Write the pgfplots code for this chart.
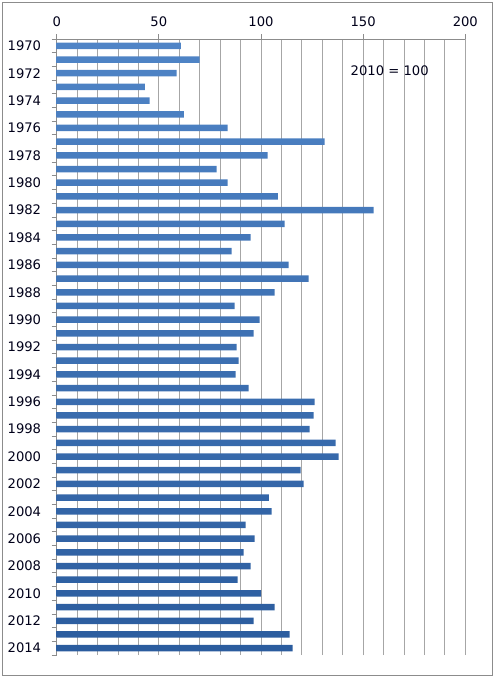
\documentclass[border=0pt]{standalone}
\usepackage{pgfplots}
\pgfplotsset{compat=1.18}
\usepackage{pgfplotstable}
\usepackage{fontspec}
\setmainfont{DejaVu Sans}
\definecolor{bartop}{HTML}{4F84C6}
\definecolor{barbot}{HTML}{2B5C9E}
\definecolor{gridc}{HTML}{A6A6A6}
\definecolor{axc}{HTML}{8C8C8C}
\pgfplotstableread{
year value
1970 60.8
1971 70.0
1972 58.7
1973 43.1
1974 45.5
1975 62.2
1976 83.7
1977 131.2
1978 103.3
1979 78.3
1980 83.7
1981 108.2
1982 155.1
1983 111.6
1984 94.9
1985 85.6
1986 113.5
1987 123.3
1988 106.7
1989 87.1
1990 99.3
1991 96.4
1992 88.1
1993 89.1
1994 87.6
1995 94.0
1996 126.3
1997 125.8
1998 123.8
1999 136.5
2000 138.0
2001 119.4
2002 120.9
2003 103.8
2004 105.2
2005 92.5
2006 96.9
2007 91.5
2008 94.9
2009 88.6
2010 100.0
2011 106.7
2012 96.4
2013 114.0
2014 115.5
}\datatable
\begin{document}
\fontsize{13.2}{15}\selectfont
\begin{tikzpicture}
\useasboundingbox (0,0) rectangle (494bp,-677bp);
\draw[axc] (2bp,-2bp) rectangle (492bp,-675bp);
\begin{axis}[
  at={(56.7bp,-655bp)}, anchor=south west,
  scale only axis, width=408.6bp, height=616bp,
  xmin=0, xmax=200, ymin=-0.5, ymax=44.5,
  separate axis lines,
  axis x line*=top, axis y line*=left,
  axis line style={axc, line width=0.8pt, -},
  xtick={0,50,...,200},
  minor xtick={10,20,...,190},
  xmajorgrids, xminorgrids,
  grid style={gridc, line width=0.8pt},
  minor grid style={gridc, line width=0.8pt},
  major grid style={gridc, line width=0.8pt},
  ytick={-0.5,0.5,...,44.5},
  yticklabels={},
  extra y ticks={0,2,...,44},
  extra y tick labels={2014,2012,2010,2008,2006,2004,2002,2000,1998,1996,1994,1992,1990,1988,1986,1984,1982,1980,1978,1976,1974,1972,1970},
  extra y tick style={tick style={draw=none}, yticklabel style={xshift=-6bp}},
  tick align=outside,
  major tick length=5bp,
  minor tick length=0pt,
  tick style={axc, line width=0.8pt},
  /pgf/number format/assume math mode=true,
  tick label style={font=\fontsize{13.2}{15}\selectfont, text=black!90!blue},
  xticklabel style={yshift=3bp},
  xbar, bar width=6.5bp, bar shift=0pt,
  clip=false,
]
\addplot[draw=none, top color=bartop, bottom color=barbot] table[x=value, y expr=2014-\thisrow{year}] {\datatable};
\node[font=\fontsize{13.2}{15}\selectfont, text=black!90!blue] at (rel axis cs:0.815,0.949) {2010 = 100};
\end{axis}
\end{tikzpicture}
\end{document}
